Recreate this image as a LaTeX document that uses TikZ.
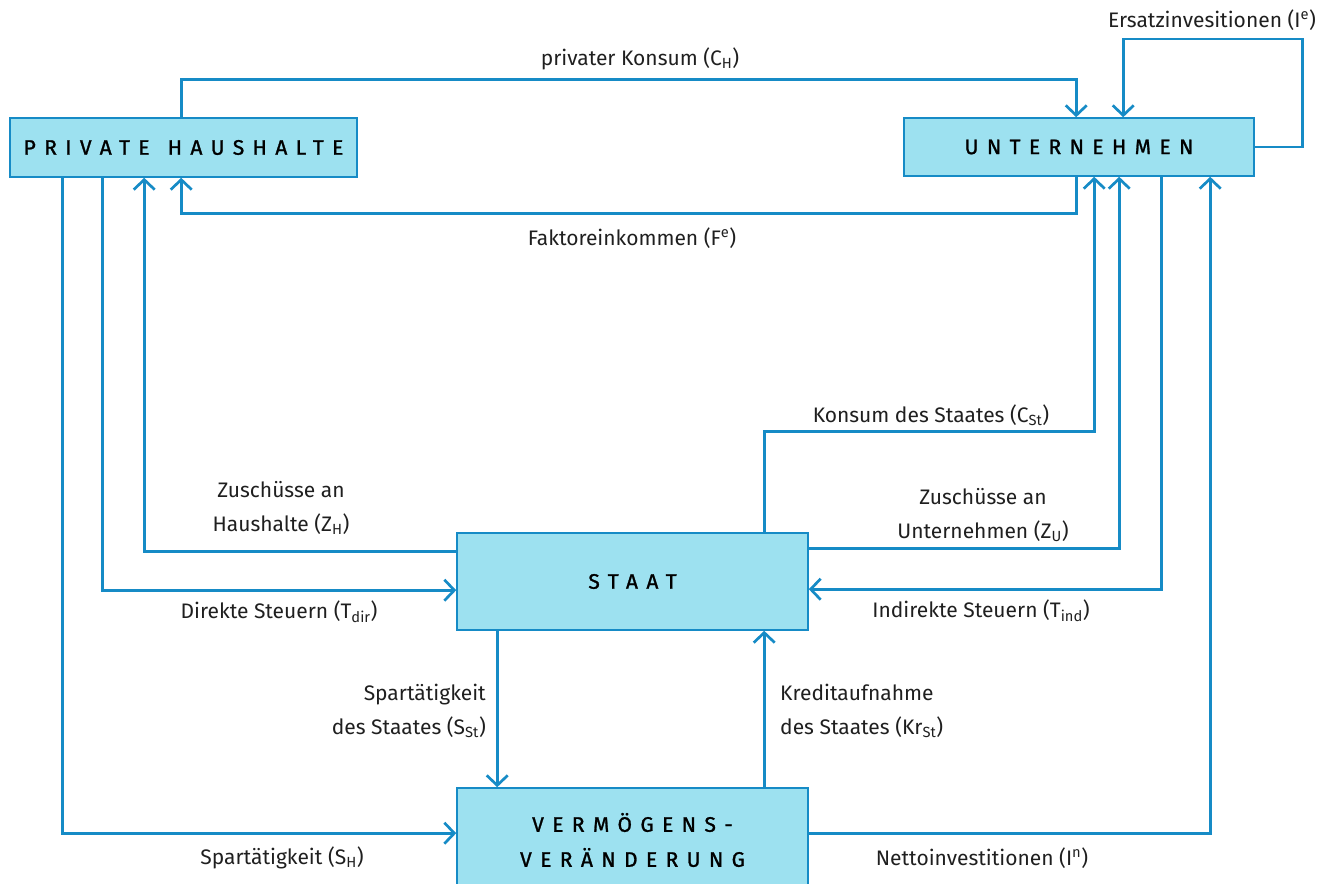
\documentclass[tikz,border=0pt]{standalone}
\usepackage{fontspec}
\setmainfont{Fira Sans}
\newfontfamily\boxfont[LetterSpace=40,FakeBold=1.2]{Fira Sans}
\usetikzlibrary{arrows.meta}
\definecolor{lineblue}{HTML}{168BC6}
\definecolor{boxfill}{HTML}{9DE1F0}
\begin{document}
\begin{tikzpicture}[x=1pt,y=-1pt,
  sector/.style={draw=lineblue,line width=1.6pt,fill=boxfill,inner sep=0pt,
    font=\boxfont\fontsize{21}{35}\selectfont,align=center},
  flow/.style={draw=lineblue,line width=2.7pt,
    -{Straight Barb[length=10pt,width=21pt]}},
  lbl/.style={font=\fontsize{21}{34}\selectfont,inner sep=0pt,text=black!88}]
\useasboundingbox (0,0) rectangle (1340,883);
% boxes
\node[sector,minimum width=347pt,minimum height=59pt] (ph) at (183.5,147.5) {PRIVATE\hspace{0.2em} HAUSHALTE};
\node[sector,minimum width=350pt,minimum height=58pt] (un) at (1079,147) {UNTERNEHMEN};
\node[sector,minimum width=351pt,minimum height=97pt] (st) at (632.5,581.5) {STAAT};
\node[sector,minimum width=351pt,minimum height=104pt] (vv) at (632.5,840) {VERMÖGENS-\\VERÄNDERUNG};
% connectors
\draw[flow] ([xshift=172pt]ph.north west) -- ++(0,-38) -| ([xshift=173pt]un.north west);
\draw[flow] (un.east) -- ++(48,0) -- ++(0,-108) -| ([xshift=220pt]un.north west);
\draw[flow] ([xshift=173pt]un.south west) -- ++(0,37) -| ([xshift=172pt]ph.south west);
\draw[flow] ([xshift=308pt]st.north west) -- ++(0,-101) -| ([xshift=191pt]un.south west);
\draw[flow] ([yshift=-16pt]st.north east) -| ([xshift=216pt]un.south west);
\draw[flow] ([xshift=258pt]un.south west) |- ([yshift=-57pt]st.north east);
\draw[flow] ([yshift=-46pt]vv.north east) -| ([xshift=307pt]un.south west);
\draw[flow] ([yshift=-19pt]st.north west) -| ([xshift=135pt]ph.south west);
\draw[flow] ([xshift=93pt]ph.south west) |- ([yshift=-58pt]st.north west);
\draw[flow] ([xshift=53pt]ph.south west) |- ([yshift=-46pt]vv.north west);
\draw[flow] ([xshift=41pt]st.south west) -- ([xshift=41pt]vv.north west);
\draw[flow] ([xshift=308pt]vv.north west) -- ([xshift=308pt]st.south west);
% labels
\node[lbl] (lck) at (640,59) {privater Konsum (C\textsubscript{H})};
\node[lbl] (lie) at (1212,20) {Ersatzinvesitionen (I\textsuperscript{e})};
\node[lbl] (lfe) at (632,238) {Faktoreinkommen (F\textsuperscript{e})};
\node[lbl] (lcst) at (931,415) {Konsum des Staates (C\textsubscript{St})};
\node[lbl,align=center] (lzu) at (983,515) {Zuschüsse an\\Unternehmen (Z\textsubscript{U})};
\node[lbl] (lti) at (981,611) {Indirekte Steuern (T\textsubscript{ind})};
\node[lbl,align=center] (lzh) at (281,508) {Zuschüsse an\\Haushalte (Z\textsubscript{H})};
\node[lbl] (ltd) at (279,612) {Direkte Steuern (T\textsubscript{dir})};
\node[lbl,align=right,anchor=east] (lsst) at (486,711) {Spartätigkeit\\des Staates (S\textsubscript{St})};
\node[lbl,align=left,anchor=west] (lkr) at (780,711) {Kreditaufnahme\\des Staates (Kr\textsubscript{St})};
\node[lbl] (lsh) at (282,858) {Spartätigkeit (S\textsubscript{H})};
\node[lbl] (lin) at (982,858) {Nettoinvestitionen (I\textsuperscript{n})};
\end{tikzpicture}
\end{document}
